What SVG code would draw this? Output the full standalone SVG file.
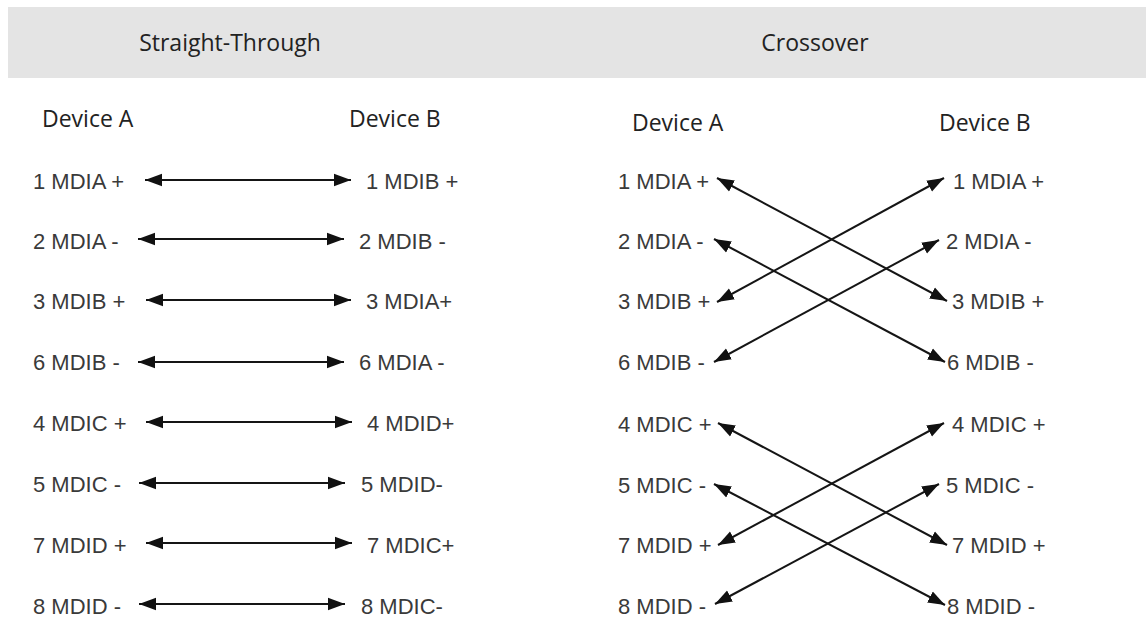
<svg xmlns="http://www.w3.org/2000/svg" width="1146" height="623" viewBox="0 0 1146 623">
<style>
.hd{font-family:"Open Sans","Noto Sans",sans-serif;font-size:23px;fill:#222}
.pin{font-family:"Liberation Sans",Arial,sans-serif;font-size:22px;fill:#3a3a3a}
.ln{stroke:#151515;stroke-width:2;fill:none;marker-start:url(#ah);marker-end:url(#ah)}
</style>
<defs>
<marker id="ah" markerUnits="userSpaceOnUse" markerWidth="18" markerHeight="14" refX="17" refY="7" orient="auto-start-reverse" viewBox="0 0 18 14">
<path d="M0,0.8 L17,7 L0,13.2 z" fill="#111"/>
</marker>
</defs>
<rect x="0" y="0" width="1146" height="623" fill="#fff"/>
<rect id="header-band" x="8" y="7" width="1138" height="71" fill="#e4e4e4"/>
<g id="title-straight"><text class="hd" x="230" y="51" text-anchor="middle">Straight-Through</text></g>
<g id="title-crossover"><text class="hd" x="815" y="51" text-anchor="middle">Crossover</text></g>

<g id="st-deviceA"><text class="hd" x="42" y="127">Device A</text></g>
<g id="st-deviceB"><text class="hd" x="349" y="127">Device B</text></g>
<g id="co-deviceA"><text class="hd" x="632" y="131">Device A</text></g>
<g id="co-deviceB"><text class="hd" x="939" y="131">Device B</text></g>

<g id="st-left-pins" class="pin">
<text x="33" y="189">1 MDIA +</text>
<text x="33" y="249">2 MDIA -</text>
<text x="33" y="309">3 MDIB +</text>
<text x="33" y="370">6 MDIB -</text>
<text x="33" y="431">4 MDIC +</text>
<text x="33" y="492">5 MDIC -</text>
<text x="33" y="553">7 MDID +</text>
<text x="33" y="614">8 MDID -</text>
</g>
<g id="st-right-pins" class="pin">
<text x="366" y="189">1 MDIB +</text>
<text x="359" y="249">2 MDIB -</text>
<text x="366" y="309">3 MDIA+</text>
<text x="359" y="370">6 MDIA -</text>
<text x="367" y="431">4 MDID+</text>
<text x="361" y="492">5 MDID-</text>
<text x="367" y="553">7 MDIC+</text>
<text x="361" y="614">8 MDIC-</text>
</g>
<g id="co-left-pins" class="pin">
<text x="618" y="189">1 MDIA +</text>
<text x="618" y="249">2 MDIA -</text>
<text x="618" y="309">3 MDIB +</text>
<text x="618" y="370">6 MDIB -</text>
<text x="618" y="432">4 MDIC +</text>
<text x="618" y="493">5 MDIC -</text>
<text x="618" y="553">7 MDID +</text>
<text x="618" y="614">8 MDID -</text>
</g>
<g id="co-right-pins" class="pin">
<text x="953" y="189">1 MDIA +</text>
<text x="946" y="249">2 MDIA -</text>
<text x="952" y="309">3 MDIB +</text>
<text x="947" y="370">6 MDIB -</text>
<text x="952" y="432">4 MDIC +</text>
<text x="946" y="493">5 MDIC -</text>
<text x="952" y="553">7 MDID +</text>
<text x="947" y="614">8 MDID -</text>
</g>

<g id="connectors">
<line class="ln" x1="145" y1="180" x2="351" y2="180"/>
<line class="ln" x1="138" y1="239" x2="344" y2="239"/>
<line class="ln" x1="146" y1="300" x2="351" y2="300"/>
<line class="ln" x1="138" y1="362" x2="344" y2="362"/>
<line class="ln" x1="146" y1="422" x2="352" y2="422"/>
<line class="ln" x1="139" y1="483" x2="345" y2="483"/>
<line class="ln" x1="146" y1="543" x2="352" y2="543"/>
<line class="ln" x1="139" y1="604" x2="345" y2="604"/>

<line class="ln" x1="717" y1="178" x2="947" y2="301"/>
<line class="ln" x1="944" y1="178" x2="717" y2="302"/>
<line class="ln" x1="714" y1="239" x2="945" y2="362"/>
<line class="ln" x1="939" y1="240" x2="714" y2="362"/>
<line class="ln" x1="718" y1="423" x2="947" y2="545"/>
<line class="ln" x1="944" y1="423" x2="718" y2="545"/>
<line class="ln" x1="714" y1="484" x2="945" y2="605"/>
<line class="ln" x1="939" y1="484" x2="715" y2="604"/>
</g>
</svg>
